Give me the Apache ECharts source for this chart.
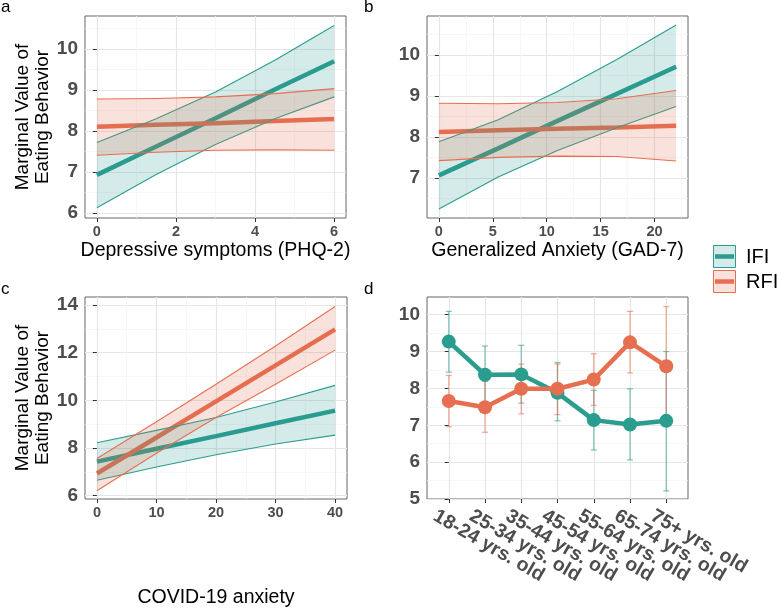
<!DOCTYPE html>
<html>
<head>
<meta charset="utf-8">
<script src="https://cdn.jsdelivr.net/npm/echarts@6/dist/echarts.min.js"></script>
<style>
  html, body { margin: 0; padding: 0; background: #fff; }
  #main { width: 777px; height: 612px; }
</style>
</head>
<body>
<div id="main"></div>
<script>
// a: Depressive symptoms (PHQ-2)
const phqX = [0, 1.5, 3, 4.5, 6];
const phqIfiFit = [6.93, 7.62, 8.31, 9.01, 9.70];
const phqIfiLo = [6.13, 6.94, 7.67, 8.30, 8.83];
const phqIfiHi = [7.72, 8.30, 8.95, 9.72, 10.57];
const phqRfiFit = [8.10, 8.15, 8.19, 8.24, 8.29];
const phqRfiLo = [7.41, 7.48, 7.53, 7.54, 7.53];
const phqRfiHi = [8.78, 8.79, 8.83, 8.91, 9.03];

// b: Generalized Anxiety (GAD-7)
const gadX = [0, 5.5, 11, 16.5, 22];
const gadIfiFit = [7.06, 7.72, 8.39, 9.05, 9.71];
const gadIfiLo = [6.24, 7.02, 7.67, 8.22, 8.74];
const gadIfiHi = [7.88, 8.42, 9.11, 9.89, 10.73];
const gadRfiFit = [8.12, 8.16, 8.20, 8.23, 8.27];
const gadRfiLo = [7.42, 7.50, 7.53, 7.52, 7.41];
const gadRfiHi = [8.82, 8.81, 8.84, 8.93, 9.13];

// c: COVID-19 anxiety
const covX = [0, 10, 20, 30, 40];
const covIfiFit = [7.43, 7.97, 8.50, 9.04, 9.57];
const covIfiLo = [6.65, 7.20, 7.72, 8.17, 8.54];
const covIfiHi = [8.22, 8.74, 9.28, 9.93, 10.63];
const covRfiFit = [6.93, 8.44, 9.96, 11.47, 12.98];
const covRfiLo = [6.21, 7.78, 9.28, 10.68, 12.11];
const covRfiHi = [7.56, 9.10, 10.68, 12.28, 13.94];

// d: age groups
const ageGroups = ['18-24 yrs. old', '25-34 yrs. old', '35-44 yrs. old', '45-54 yrs. old',
  '55-64 yrs. old', '65-74 yrs. old', '75+ yrs. old'];
const ageIfi = [9.27, 8.37, 8.38, 7.88, 7.14, 7.02, 7.12];
const ageIfiLo = [8.44, 7.58, 7.60, 7.12, 6.33, 6.06, 5.22];
const ageIfiHi = [10.09, 9.15, 9.17, 8.70, 7.95, 7.99, 9.00];
const ageRfi = [7.66, 7.49, 7.99, 7.99, 8.24, 9.25, 8.60];
const ageRfiLo = [6.96, 6.81, 7.31, 7.29, 7.54, 8.42, 6.97];
const ageRfiHi = [8.35, 8.19, 8.66, 8.66, 8.94, 10.09, 10.22];

// tick labels
const phqTicks = [0, 2, 4, 6];
const gadTicks = [0, 5, 10, 15, 20];
const covTicks = [0, 10, 20, 30, 40];
const ageTicks = [0, 1, 2, 3, 4, 5, 6];
const yTicksA = [6, 7, 8, 9, 10];
const yTicksB = [7, 8, 9, 10];
const yTicksC = [6, 8, 10, 12, 14];
const yTicksD = [5, 6, 7, 8, 9, 10];

const teal = '#2A9D8F';
const orange = '#E76F51';
const tealFill = 'rgba(42,157,143,0.2)';
const orangeFill = 'rgba(231,111,81,0.2)';
const font = 'Liberation Sans, Arial, Helvetica, sans-serif';

let myChart = echarts.init(document.getElementById('main'));

function axis(gridIndex, min, max, splitNumber, ticks, extra) {
  return Object.assign({
    type: 'value',
    gridIndex: gridIndex,
    min: min,
    max: max,
    splitNumber: splitNumber,
    axisLine: { show: false },
    axisTick: { show: true, length: 4, customValues: ticks, lineStyle: { color: '#333', width: 1 } },
    axisLabel: { customValues: ticks, color: '#4d4d4d', fontWeight: 'bold', fontSize: 14.5, fontFamily: font, margin: 6 },
    splitLine: { show: true, lineStyle: { color: '#e6e6e6', width: 1.2 } },
    minorTick: { show: false, splitNumber: 2 },
    minorSplitLine: { show: true, lineStyle: { color: '#f3f3f3', width: 0.7 } },
    nameLocation: 'middle',
    nameTextStyle: { color: '#000', fontSize: 19.5, fontFamily: font, lineHeight: 22 }
  }, extra || {});
}

function yAxis(gridIndex, min, max, splitNumber, ticks, name) {
  let a = axis(gridIndex, min, max, splitNumber, ticks, {
    name: name || '',
    nameRotate: 90,
    nameGap: 31
  });
  a.axisLabel.fontSize = 19;
  a.axisLabel.margin = 7;
  a.nameTextStyle = { color: '#000', fontSize: 19, fontFamily: font, lineHeight: 20 };
  return a;
}

function fitLine(idx, xs, ys, color) {
  return {
    type: 'line', xAxisIndex: idx, yAxisIndex: idx, z: 2, silent: true,
    showSymbol: false,
    data: xs.map((x, i) => [x, ys[i]]),
    lineStyle: { color: color, width: 4.5 },
    itemStyle: { color: color }
  };
}

function band(idx, xs, lo, hi, color, fill) {
  return {
    type: 'custom', xAxisIndex: idx, yAxisIndex: idx, z: 3, silent: true,
    data: [[xs[0], lo[0]]],
    renderItem: function (params, api) {
      let up = xs.map((x, i) => api.coord([x, hi[i]]));
      let dn = xs.map((x, i) => api.coord([x, lo[i]]));
      return {
        type: 'group',
        children: [
          { type: 'polygon', shape: { points: up.concat(dn.slice().reverse()) }, style: { fill: fill } },
          { type: 'polyline', shape: { points: up }, style: { stroke: color, lineWidth: 1.1, fill: null } },
          { type: 'polyline', shape: { points: dn }, style: { stroke: color, lineWidth: 1.1, fill: null } }
        ]
      };
    }
  };
}

function errorBars(lo, hi, color) {
  return {
    type: 'custom', xAxisIndex: 3, yAxisIndex: 3, z: 1, silent: true,
    data: lo.map((v, i) => [i, v, hi[i]]),
    encode: { x: 0, y: [1, 2] },
    renderItem: function (params, api) {
      let a = api.coord([api.value(0), api.value(1)]);
      let b = api.coord([api.value(0), api.value(2)]);
      let st = { stroke: color, lineWidth: 1.2, opacity: 0.6 };
      return {
        type: 'group',
        children: [
          { type: 'line', shape: { x1: a[0], y1: a[1], x2: b[0], y2: b[1] }, style: st },
          { type: 'line', shape: { x1: a[0] - 3, y1: a[1], x2: a[0] + 3, y2: a[1] }, style: st },
          { type: 'line', shape: { x1: b[0] - 3, y1: b[1], x2: b[0] + 3, y2: b[1] }, style: st }
        ]
      };
    }
  };
}

function agePoints(vals, color) {
  return {
    type: 'line', xAxisIndex: 3, yAxisIndex: 3, z: 2, silent: true,
    data: vals.map((v, i) => [i, v]),
    symbol: 'circle', symbolSize: 14,
    lineStyle: { color: color, width: 4.5 },
    itemStyle: { color: color }
  };
}

// slanted age labels, anchored under each tick
let ageLabels = {
  type: 'custom', xAxisIndex: 3, yAxisIndex: 3, z: 5, silent: true, clip: false,
  data: ageTicks.map(i => [i, 5]),
  renderItem: function (params, api) {
    let p = api.coord([api.value(0), api.value(1)]);
    return {
      type: 'text',
      x: p[0] - 9,
      y: p[1] + 7,
      rotation: -Math.PI / 6,
      style: {
        text: ageGroups[params.dataIndex],
        fill: '#4d4d4d',
        font: 'bold 19.5px ' + font,
        align: 'left',
        verticalAlign: 'top'
      }
    };
  }
};

let ageX = axis(3, -0.6, 6.6, 7, ageTicks, {});
ageX.minorSplitLine = { show: false };
ageX.axisLabel = { show: false };

let option = {
  animation: false,
  backgroundColor: '#fff',
  grid: [
    { left: 85, top: 16, width: 261, height: 202, show: true, borderColor: '#666', borderWidth: 1 },
    { left: 427, top: 16, width: 261, height: 202, show: true, borderColor: '#666', borderWidth: 1 },
    { left: 85, top: 297, width: 262, height: 202, show: true, borderColor: '#666', borderWidth: 1 },
    { left: 427, top: 297, width: 261, height: 202, show: true, borderColor: '#666', borderWidth: 1 }
  ],
  xAxis: [
    axis(0, -0.3, 6.3, 3, phqTicks, { name: 'Depressive symptoms (PHQ-2)', nameGap: 22 }),
    axis(1, -1.1, 23.1, 5, gadTicks, { name: 'Generalized Anxiety (GAD-7)', nameGap: 22 }),
    axis(2, -2, 42, 4, covTicks, { name: 'COVID-19 anxiety', nameGap: 88 }),
    ageX
  ],
  yAxis: [
    yAxis(0, 5.88, 10.8, 5, yTicksA, 'Marginal Value of\nEating Behavior'),
    yAxis(1, 6.02, 10.95, 5, yTicksB),
    yAxis(2, 5.86, 14.34, 4, yTicksC, 'Marginal Value of\nEating Behavior'),
    yAxis(3, 5, 10.48, 5, yTicksD)
  ],
  series: [
    fitLine(0, phqX, phqIfiFit, teal),
    fitLine(0, phqX, phqRfiFit, orange),
    band(0, phqX, phqIfiLo, phqIfiHi, teal, tealFill),
    band(0, phqX, phqRfiLo, phqRfiHi, orange, orangeFill),

    fitLine(1, gadX, gadIfiFit, teal),
    fitLine(1, gadX, gadRfiFit, orange),
    band(1, gadX, gadIfiLo, gadIfiHi, teal, tealFill),
    band(1, gadX, gadRfiLo, gadRfiHi, orange, orangeFill),

    fitLine(2, covX, covIfiFit, teal),
    fitLine(2, covX, covRfiFit, orange),
    band(2, covX, covIfiLo, covIfiHi, teal, tealFill),
    band(2, covX, covRfiLo, covRfiHi, orange, orangeFill),

    errorBars(ageIfiLo, ageIfiHi, teal),
    errorBars(ageRfiLo, ageRfiHi, orange),
    agePoints(ageIfi, teal),
    agePoints(ageRfi, orange),
    ageLabels
  ],
  graphic: [
    // panel tags
    { type: 'text', style: { x: 1, y: 7, text: 'a', font: '17px ' + font, fill: '#000', verticalAlign: 'middle' } },
    { type: 'text', style: { x: 364, y: 7, text: 'b', font: '17px ' + font, fill: '#000', verticalAlign: 'middle' } },
    { type: 'text', style: { x: 1, y: 289, text: 'c', font: '17px ' + font, fill: '#000', verticalAlign: 'middle' } },
    { type: 'text', style: { x: 364, y: 289, text: 'd', font: '17px ' + font, fill: '#000', verticalAlign: 'middle' } },
    // legend
    { type: 'rect', shape: { x: 713.5, y: 245.5, width: 22, height: 22 }, style: { fill: tealFill, stroke: teal, lineWidth: 1 } },
    { type: 'line', shape: { x1: 715, y1: 256.5, x2: 734, y2: 256.5 }, style: { stroke: teal, lineWidth: 4.5 } },
    { type: 'text', style: { x: 746, y: 257, text: 'IFI', font: '20px ' + font, fill: '#000', verticalAlign: 'middle' } },
    { type: 'rect', shape: { x: 713.5, y: 270.5, width: 22, height: 22 }, style: { fill: orangeFill, stroke: orange, lineWidth: 1 } },
    { type: 'line', shape: { x1: 715, y1: 281.5, x2: 734, y2: 281.5 }, style: { stroke: orange, lineWidth: 4.5 } },
    { type: 'text', style: { x: 746, y: 282, text: 'RFI', font: '20px ' + font, fill: '#000', verticalAlign: 'middle' } }
  ]
};

myChart.setOption(option);
</script>
</body>
</html>
